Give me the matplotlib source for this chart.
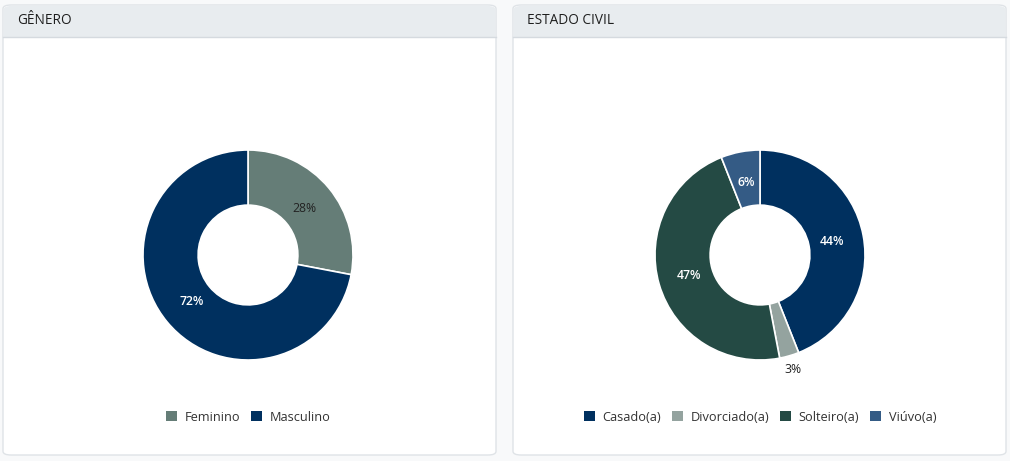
import matplotlib
matplotlib.use("Agg")
import matplotlib.pyplot as plt
from matplotlib.patches import FancyBboxPatch, Patch
import numpy as np

plt.rcParams['font.family'] = ['Open Sans', 'DejaVu Sans']

# Data
genero_labels = ["Feminino", "Masculino"]
genero_values = [28, 72]
genero_colors = ["#657d77", "#00305f"]
genero_text_colors = ["#222222", "#ffffff"]

civil_labels = ["Casado(a)", "Divorciado(a)", "Solteiro(a)", "Viúvo(a)"]
civil_values = [44, 3, 47, 6]
civil_colors = ["#00305f", "#94a39f", "#244a44", "#345b85"]
civil_text_colors = ["#ffffff", "#222222", "#ffffff", "#ffffff"]

titles = ["GÊNERO", "ESTADO CIVIL"]

W, H = 1010, 461
fig = plt.figure(figsize=(W / 100, H / 100), dpi=100)
fig.patch.set_facecolor("#f8f9fa")


def px(x, y):
    return x / W, 1 - y / H


def card(x0, x1, title):
    y0, y1 = 5, 455
    body = FancyBboxPatch((x0 / W, 1 - y1 / H), (x1 - x0) / W, (y1 - y0) / H,
                          boxstyle="round,pad=0,rounding_size=0.008",
                          transform=fig.transFigure, facecolor="white",
                          edgecolor="#dfe3e7", linewidth=1.0, zorder=-3)
    fig.patches.append(body)
    head = FancyBboxPatch((x0 / W + 0.0006, 1 - 37 / H), (x1 - x0) / W - 0.0012, (37 - y0) / H - 0.002,
                          boxstyle="round,pad=0,rounding_size=0.008",
                          transform=fig.transFigure, facecolor="#e8ecef",
                          edgecolor="none", zorder=-2)
    fig.patches.append(head)
    sq = plt.Rectangle((x0 / W + 0.0006, 1 - 37 / H), (x1 - x0) / W - 0.0012, 12 / H,
                       transform=fig.transFigure, facecolor="#e8ecef", edgecolor="none", zorder=-2)
    fig.patches.append(sq)
    line = plt.Line2D([x0 / W, x1 / W], [1 - 37.5 / H, 1 - 37.5 / H], transform=fig.transFigure,
                      color="#d5dadf", linewidth=1.0, zorder=-1)
    fig.lines.append(line)
    fx, fy = px(x0 + 14, 21)
    fig.text(fx, fy, title, fontsize=9.8, color="#1e1e1e", va="center", ha="left", zorder=3)


card(3, 496, titles[0])
card(513, 1006, titles[1])


def donut(cx, cy, values, colors, tcolors, outside=None):
    R = 105
    ax = fig.add_axes([(cx - R) / W, 1 - (cy + R) / H, 2 * R / W, 2 * R / H])
    ax.set_zorder(5)
    wedges, _ = ax.pie(values, colors=colors, startangle=90, counterclock=False, radius=1,
                       wedgeprops=dict(width=0.525, edgecolor="white", linewidth=1.2))
    ax.patch.set_visible(False)
    ax.set_xlim(-1, 1)
    ax.set_ylim(-1, 1)
    ax.set_aspect("equal")
    ax.axis("off")
    total = sum(values)
    for i, (w, v) in enumerate(zip(wedges, values)):
        ang = np.deg2rad((w.theta1 + w.theta2) / 2)
        r = 0.70
        if outside is not None and i in outside:
            r = 1.14
        bold = tcolors[i] == "#ffffff"
        ax.text(r * np.cos(ang), r * np.sin(ang), f"{round(100 * v / total)}%",
                ha="center", va="center", fontsize=8.8, color=tcolors[i],
                fontweight="semibold" if bold else "normal", clip_on=False)
    return ax


donut(248, 255, genero_values, genero_colors, genero_text_colors)
donut(760, 255, civil_values, civil_colors, civil_text_colors, outside=[1])


def legend(cx, labels, colors):
    handles = [Patch(facecolor=c, edgecolor="none", label=l) for l, c in zip(labels, colors)]
    fx, fy = px(cx, 417)
    fig.legend(handles=handles, loc="center", bbox_to_anchor=(fx, fy), ncol=len(labels),
               frameon=False, fontsize=9.2, handlelength=0.85, handleheight=0.85,
               handletextpad=0.6, columnspacing=0.85, labelcolor="#333333")


legend(248, genero_labels, genero_colors)
legend(760, civil_labels, civil_colors)

fig.savefig("out.png", dpi=100, facecolor=fig.get_facecolor())
